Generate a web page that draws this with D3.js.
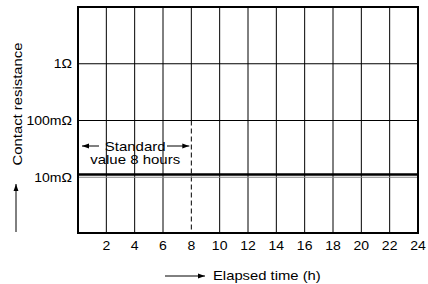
<!DOCTYPE html>
<html>
<head>
<meta charset="utf-8">
<script src="https://cdn.jsdelivr.net/npm/d3@7"></script>
<style>
  body { margin: 0; background: #fff; }
  text { font-family: "Liberation Sans", Arial, sans-serif; fill: #000; }
</style>
</head>
<body>
<div id="chart"></div>
<script>
// chart values
var hourTicks = [2, 4, 6, 8, 10, 12, 14, 16, 18, 20, 22, 24];
var resTicks = [0.01, 0.1, 1];
var resTickLabels = ["10m\u03A9", "100m\u03A9", "1\u03A9"];
var elapsedHours = [0, 24];
var contactResistance = [0.0112, 0.0112];
var standardHours = 8;

var width = 428, height = 284;
var margin = {top: 7, right: 10, bottom: 51, left: 78};
var w = width - margin.left - margin.right,
    h = height - margin.top - margin.bottom;

var svg = d3.select("#chart").append("svg")
    .attr("width", width)
    .attr("height", height);

svg.append("defs").append("marker")
    .attr("id", "arr")
    .attr("viewBox", "0 0 10 10")
    .attr("refX", 10).attr("refY", 5)
    .attr("markerWidth", 7).attr("markerHeight", 7)
    .attr("markerUnits", "userSpaceOnUse")
    .attr("orient", "auto")
  .append("path")
    .attr("d", "M0,1.5L10,5L0,8.5Z")
    .attr("fill", "#000");

var g = svg.append("g")
    .attr("transform", "translate(" + margin.left + "," + margin.top + ")");

var x = d3.scaleLinear().domain([0, 24]).range([0, w]);
var y = d3.scaleLog().domain([0.001, 10]).range([h + 1, 0]);

// stretched text helper (reference font is a bit wider than Arial)
function label(parent, tx, ty, str, size, sx, anchor, rot) {
  var t = parent.append("g")
      .attr("transform", "translate(" + tx + "," + ty + ")" +
            (rot ? " rotate(" + rot + ")" : "") + " scale(" + sx + ",1)")
    .append("text")
      .attr("text-anchor", anchor || "start")
      .style("font-size", size + "px")
      .text(str);
  return t;
}

// vertical grid (8 h is solid only above 100mΩ, dashed below)
g.selectAll(".vgrid")
  .data(hourTicks.filter(d => d < 24))
  .enter().append("line")
    .attr("x1", d => x(d)).attr("x2", d => x(d))
    .attr("y1", 0)
    .attr("y2", d => d === standardHours ? y(0.1) : h)
    .attr("stroke", "#000")
    .attr("stroke-width", 1);

g.append("line")
    .attr("x1", x(standardHours)).attr("x2", x(standardHours))
    .attr("y1", y(0.1)).attr("y2", h)
    .attr("stroke", "#000")
    .attr("stroke-width", 1)
    .attr("stroke-dasharray", "5,3");

// horizontal grid
g.selectAll(".hgrid")
  .data(resTicks)
  .enter().append("line")
    .attr("x1", 0).attr("x2", w)
    .attr("y1", d => y(d)).attr("y2", d => y(d))
    .attr("stroke", d => d === 0.01 ? "#888" : "#000")
    .attr("stroke-width", 1);

// data line
var line = d3.line()
    .x((d, i) => x(elapsedHours[i]))
    .y(d => y(d));
g.append("path")
    .datum(contactResistance)
    .attr("d", line)
    .attr("fill", "none")
    .attr("stroke", "#000")
    .attr("stroke-width", 2.6);

// frame
g.append("rect")
    .attr("x", 0).attr("y", 0)
    .attr("width", w).attr("height", h)
    .attr("fill", "none")
    .attr("stroke", "#000")
    .attr("stroke-width", 2);

// tick labels
hourTicks.forEach(function(d) {
  label(g, x(d), h + 17, d, 13, 1.08, "middle");
});
resTicks.forEach(function(d, i) {
  label(g, -6, y(d) + 4.5, resTickLabels[i], 13, 1.08, "end");
});

// standard value annotation
var annX = x(standardHours) / 2 + 0.5;
label(g, annX, 143.5, "Standard", 12.5, 1.2, "middle");
label(g, annX, 157, "value 8 hours", 12.5, 1.2, "middle");
g.append("line")
    .attr("x1", 21).attr("x2", 4)
    .attr("y1", 139).attr("y2", 139)
    .attr("stroke", "#000").attr("stroke-width", 1)
    .attr("marker-end", "url(#arr)");
g.append("line")
    .attr("x1", 89).attr("x2", x(standardHours) - 2)
    .attr("y1", 139).attr("y2", 139)
    .attr("stroke", "#000").attr("stroke-width", 1)
    .attr("marker-end", "url(#arr)");

// axis titles
svg.append("line")
    .attr("x1", 165).attr("x2", 205)
    .attr("y1", 276).attr("y2", 276)
    .attr("stroke", "#000").attr("stroke-width", 1)
    .attr("marker-end", "url(#arr)");
label(svg, 213, 280, "Elapsed time (h)", 13, 1.14, "start");

label(svg, 22, 104, "Contact resistance", 13.5, 1.1, "middle", -90);
svg.append("line")
    .attr("x1", 16).attr("x2", 16)
    .attr("y1", 232).attr("y2", 184)
    .attr("stroke", "#000").attr("stroke-width", 1)
    .attr("marker-end", "url(#arr)");
</script>
</body>
</html>
